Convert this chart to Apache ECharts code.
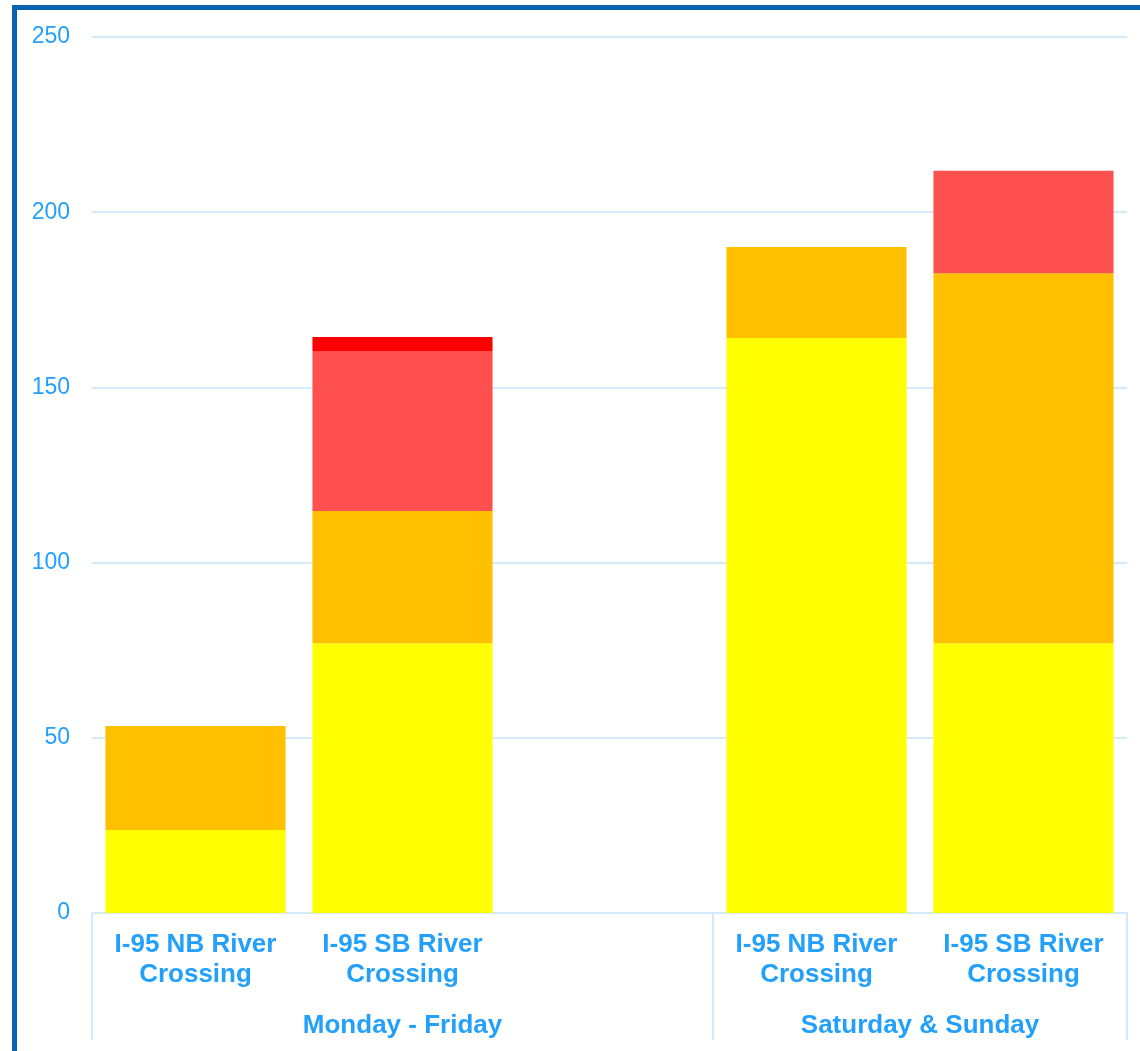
<!DOCTYPE html>
<html>
<head>
<meta charset="utf-8">
<script src="https://cdn.jsdelivr.net/npm/echarts@6/dist/echarts.min.js"></script>
<style>
html,body{margin:0;padding:0;background:#fff;overflow:hidden;}
#chart{position:absolute;left:0;top:0;width:1140px;height:1051px;}
#frame{position:absolute;left:12px;top:5px;width:1200px;height:1200px;border:5px solid #0563AF;box-sizing:border-box;pointer-events:none;}
</style>
</head>
<body>
<div id="chart"></div>
<div id="frame"></div>
<script>
const categories = ['I-95 NB River\nCrossing', 'I-95 SB River\nCrossing', '', 'I-95 NB River\nCrossing', 'I-95 SB River\nCrossing'];
const groupLabels = ['', '', '', 'Monday - Friday', '', '', '', '', 'Saturday & Sunday', '', ''];
const groupBoundaries = [0, 6, 10];
const yellowVals = [23.7, 77.0, null, 164.1, 77.0];
const orangeVals = [29.7, 37.7, null, 26.0, 105.6];
const lightRedVals = [null, 45.7, null, null, 29.2];
const redVals = [null, 4.0, null, null, null];
const yTicks = {min: 0, max: 250, interval: 50};

const textColor = '#22A0FB';
const lineColor = '#D3EAFA';
const fontFam = '"Liberation Sans", Arial, sans-serif';

const chart = echarts.init(document.getElementById('chart'));
function bar(name, data, color) {
  return {name, type: 'bar', stack: 'total', data, barCategoryGap: '13%',
    itemStyle: {color}, emphasis: {disabled: true}};
}
chart.setOption({
  animation: false,
  grid: {left: 92, right: 13, top: 37, bottom: 138, containLabel: false},
  xAxis: [{
    type: 'category', data: categories, position: 'bottom',
    axisLine: {show: true, lineStyle: {color: lineColor, width: 2}},
    axisTick: {show: false},
    axisLabel: {interval: 0, color: textColor, fontFamily: fontFam, fontWeight: 'bold',
      fontSize: 26, lineHeight: 30, margin: 17}
  }, {
    type: 'category', data: groupLabels, position: 'bottom', boundaryGap: false,
    axisLine: {show: false},
    axisTick: {show: true, length: 127, interval: (i) => groupBoundaries.indexOf(i) >= 0,
      lineStyle: {color: lineColor, width: 2}},
    axisLabel: {interval: (i) => groupLabels[i] !== '', color: textColor, fontFamily: fontFam,
      fontWeight: 'bold', fontSize: 26, margin: 100}
  }],
  yAxis: {
    type: 'value', min: yTicks.min, max: yTicks.max, interval: yTicks.interval,
    axisLine: {show: false}, axisTick: {show: false},
    axisLabel: {color: textColor, fontFamily: fontFam, fontSize: 23, margin: 22},
    splitLine: {lineStyle: {color: lineColor, width: 2}}
  },
  series: [
    bar('Yellow', yellowVals, '#FFFF00'),
    bar('Orange', orangeVals, '#FFC000'),
    bar('Light Red', lightRedVals, '#FF5050'),
    bar('Red', redVals, '#FF0000')
  ]
});
</script>
</body>
</html>
